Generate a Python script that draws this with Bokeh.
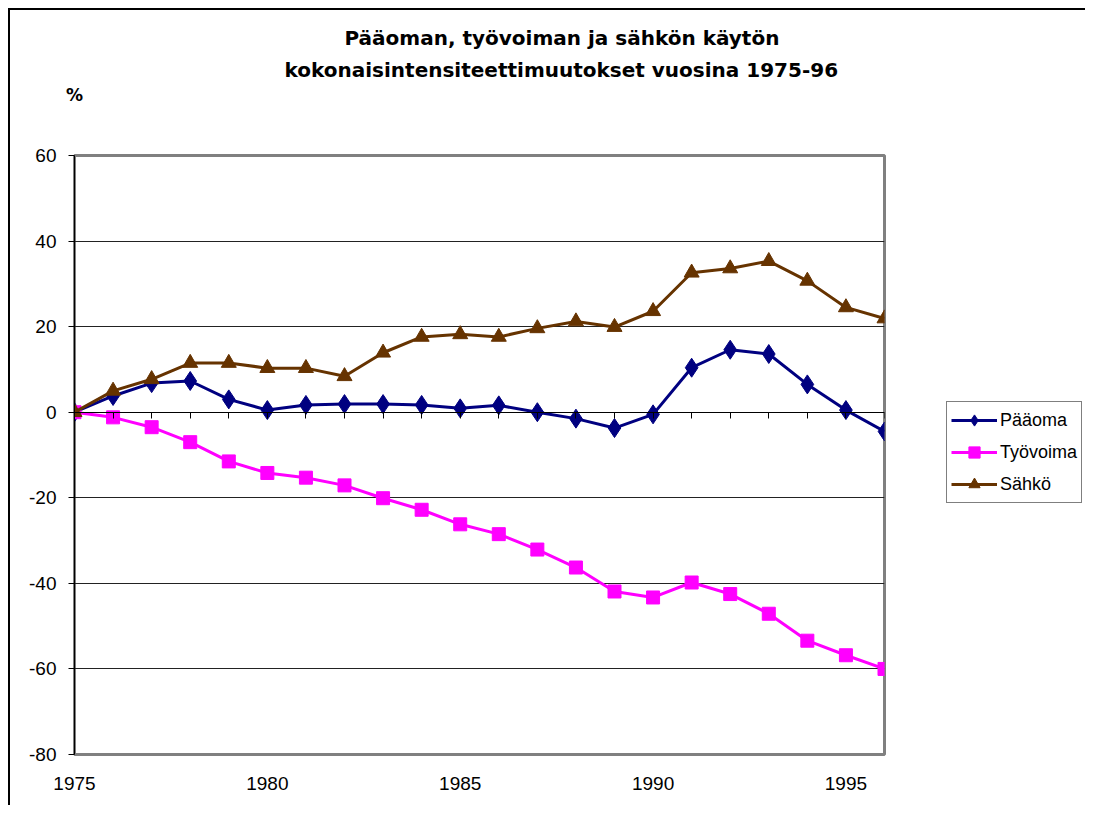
from bokeh.plotting import figure
from bokeh.models import (Range1d, LinearAxis, FixedTicker, Grid, Title, Legend, LegendItem,
                          PrintfTickFormatter)
from bokeh.embed import file_html
from bokeh.resources import INLINE

# ---- data ----
years = list(range(1975, 1997))
paaoma = [0.0, 3.8, 6.8, 7.3, 3.0, 0.5, 1.7, 1.9, 1.9, 1.7, 0.9, 1.6,
          0.0, -1.5, -3.7, -0.5, 10.4, 14.6, 13.6, 6.5, 0.5, -4.5]
tyovoima = [0.0, -1.2, -3.5, -7.0, -11.5, -14.2, -15.3, -17.1, -20.1, -22.8, -26.2, -28.5,
            -32.1, -36.3, -41.9, -43.3, -39.8, -42.5, -47.1, -53.4, -56.8, -60.0]
sahko = [0.0, 5.0, 7.7, 11.5, 11.5, 10.3, 10.3, 8.4, 13.9, 17.6, 18.2, 17.6,
         19.6, 21.2, 19.9, 23.6, 32.6, 33.6, 35.3, 30.7, 24.5, 21.9]
series_names = ["Pääoma", "Työvoima", "Sähkö"]
y_ticks = [-80, -60, -40, -20, 0, 20, 40, 60]
x_label_ticks = [1975, 1980, 1985, 1990, 1995]
title_lines = ["Pääoman, työvoiman ja sähkön käytön",
               "kokonaisintensiteettimuutokset vuosina 1975-96"]
y_unit = "%"

FONT = "Liberation Sans"
TFONT = "DejaVu Sans"

p = figure(width=1080, height=795, frame_width=810, frame_height=599,
           output_backend="svg", toolbar_location=None,
           x_range=Range1d(1975, 1996), y_range=Range1d(-80, 60),
           x_axis_location=None, y_axis_location=None, title=None,
           min_border_left=64, min_border_top=145, min_border_right=206, min_border_bottom=51)
p.center = []
p.background_fill_color = "white"
p.border_fill_color = "white"
p.outline_line_color = "#808080"
p.outline_line_width = 3
p.styles = {"border-left": "2px solid #000", "border-top": "2px solid #000"}

# y axis
yaxis = LinearAxis(ticker=FixedTicker(ticks=y_ticks), formatter=PrintfTickFormatter(format="%d"))
yaxis.axis_line_color = "black"
yaxis.axis_line_width = 1
yaxis.major_tick_out = 6
yaxis.major_tick_in = 0
yaxis.major_tick_line_color = "black"
yaxis.minor_tick_line_color = None
yaxis.major_label_standoff = 12
yaxis.major_label_text_font = FONT
yaxis.major_label_text_font_size = "19px"
yaxis.major_label_text_color = "black"
p.add_layout(yaxis, "left")

# x label axis (bottom)
xlab = LinearAxis(ticker=FixedTicker(ticks=x_label_ticks), formatter=PrintfTickFormatter(format="%d"))
xlab.axis_line_color = None
xlab.major_tick_line_color = None
xlab.minor_tick_line_color = None
xlab.major_tick_out = 0
xlab.major_tick_in = 0
xlab.major_label_standoff = 22
xlab.major_label_text_font = FONT
xlab.major_label_text_font_size = "19px"
xlab.major_label_text_color = "black"
p.add_layout(xlab, "below")

# zero axis with yearly ticks
xzero = LinearAxis(ticker=FixedTicker(ticks=years), fixed_location=0)
xzero.axis_line_color = "black"
xzero.axis_line_width = 1
xzero.major_tick_out = 6
xzero.major_tick_in = 0
xzero.major_tick_line_color = "black"
xzero.minor_tick_line_color = None
xzero.major_label_text_font_size = "0px"
xzero.major_label_text_alpha = 0
xzero.major_label_standoff = 0
p.add_layout(xzero, "below")

# horizontal gridlines
grid = Grid(dimension=1, ticker=yaxis.ticker, grid_line_color="#222222", grid_line_width=1)
p.add_layout(grid)

colors = ["#000080", "#FF00FF", "#663300"]
markers = ["diamond", "square", "triangle"]
sizes = [19, 13, 15]
values = [paaoma, tyovoima, sahko]

items = []
for name, vals, col, mk, sz in zip(series_names, values, colors, markers, sizes):
    r1 = p.line(years, vals, line_color=col, line_width=3)
    r2 = p.scatter(years, vals, marker=mk, size=sz, fill_color=col, line_color=col)
    items.append(LegendItem(label=name, renderers=[r1, r2]))

legend = Legend(items=items, location=(62, 251))
legend.border_line_color = "black"
legend.border_line_width = 1
legend.background_fill_color = "white"
legend.label_text_font = FONT
legend.label_text_font_size = "18px"
legend.label_text_color = "black"
legend.glyph_width = 46
legend.glyph_height = 28
legend.label_height = 28
legend.label_standoff = 3
legend.spacing = 4
legend.padding = 4
legend.margin = 0
p.add_layout(legend, "right")

# unit label above the y axis (top axis with one labelled tick)
pct_axis = LinearAxis(ticker=FixedTicker(ticks=[years[0]]),
                      major_label_overrides={years[0]: y_unit})
pct_axis.axis_line_color = None
pct_axis.major_tick_line_color = None
pct_axis.minor_tick_line_color = None
pct_axis.major_tick_out = 0
pct_axis.major_tick_in = 0
pct_axis.major_label_standoff = 51
pct_axis.major_label_text_font = TFONT
pct_axis.major_label_text_font_size = "17px"
pct_axis.major_label_text_font_style = "bold"
pct_axis.major_label_text_color = "black"
p.add_layout(pct_axis, "above")

# titles (first added = closest to the frame); centred over the whole chart area
t2 = Title(text=title_lines[1], align="left", offset=210, standoff=0,
           text_font=TFONT, text_font_size="20px", text_font_style="bold", text_color="black")
t1 = Title(text=title_lines[0], align="left", offset=270, standoff=12,
           text_font=TFONT, text_font_size="20px", text_font_style="bold", text_color="black")
p.add_layout(t2, "above")
p.add_layout(t1, "above")

html = file_html(p, INLINE)
html = html.replace("</head>", "<style>body{margin:8px;}</style></head>")
open("out.html", "w").write(html)
